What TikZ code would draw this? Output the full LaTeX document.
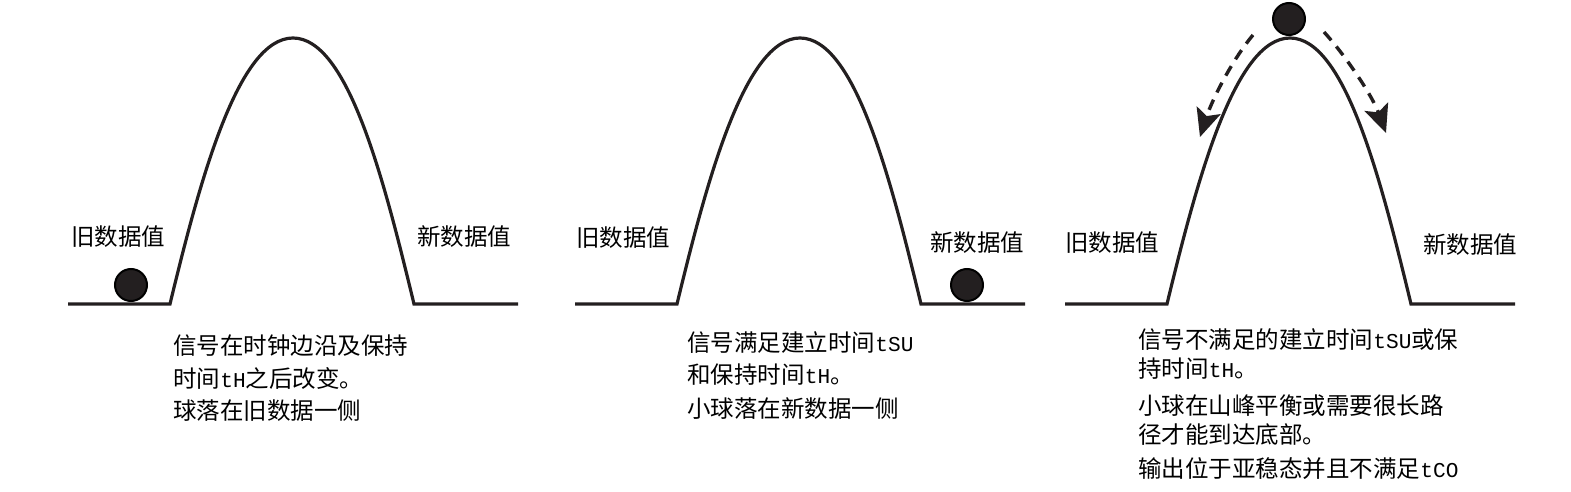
\documentclass[tikz,border=0pt]{standalone}
\usepackage{fontspec}
\setmainfont{Noto Sans CJK SC}
\newfontfamily\lat[Scale=0.9]{Liberation Mono}
\usetikzlibrary{arrows.meta}
\definecolor{ink}{HTML}{231F20}
\begin{document}
\begin{tikzpicture}[x=0.5pt,y=-0.5pt,
  hill/.style={draw=ink,line width=1.6pt},
  ball/.style={circle,draw=black,fill=ink,line width=1pt,minimum size=16pt,inner sep=0pt},
  lbl/.style={anchor=base west,inner sep=0pt,font=\fontsize{11.75pt}{14pt}\selectfont},
  fall/.style={draw=ink,line width=1.7pt,dash pattern=on 5.5pt off 4pt,-{Stealth[length=14pt,width=12.5pt,inset=3pt]}}]
\useasboundingbox (0,0) rectangle (1571,492);
% hills
\foreach \x in {68,575,1065}{
  \begin{scope}[shift={(\x,0)}]
    \draw[hill] (0,304) -- (102,304) .. controls (132,180) and (170,38) .. (225,38)
      .. controls (280,38) and (316,180) .. (346,304) -- (450,304);
  \end{scope}
}
% balls
\node[ball] (b1) at (131,285) {};
\node[ball] (b2) at (967,285) {};
\node[ball] (b3) at (1289,19) {};
% fall arrows
\coordinate (la) at (1253,35);
\coordinate (lb) at (1200,137);
\coordinate (ra) at (1324,32);
\coordinate (rb) at (1386,133);
\draw[fall] (la) .. controls (1232,60) and (1212,100) .. (lb);
\draw[fall] (ra) .. controls (1345,55) and (1372,95) .. (rb);
% labels
\node[lbl] (o1) at (71,246) {旧数据值};
\node[lbl] (n1) at (417,246) {新数据值};
\node[lbl] (o2) at (576,247) {旧数据值};
\node[lbl] (n2) at (930,252) {新数据值};
\node[lbl] (o3) at (1065,251) {旧数据值};
\node[lbl] (n3) at (1423,254) {新数据值};
% captions
\node[lbl] (c1a) at (173,354) {信号在时钟边沿及保持};
\node[lbl] (c1b) at (173,387) {时间{\lat tH}之后改变。};
\node[lbl] (c1c) at (173,419) {球落在旧数据一侧};
\node[lbl] (c2a) at (687,351) {信号满足建立时间{\lat tSU}};
\node[lbl] (c2b) at (687,383) {和保持时间{\lat tH}。};
\node[lbl] (c2c) at (687,417) {小球落在新数据一侧};
\node[lbl] (c3a) at (1138,349) {信号不满足的建立时间{\lat tSU}或保};
\node[lbl] (c3b) at (1138,378) {持时间{\lat tH}。};
\node[lbl] (c3c) at (1138,414) {小球在山峰平衡或需要很长路};
\node[lbl] (c3d) at (1138,443) {径才能到达底部。};
\node[lbl] (c3e) at (1138,477) {输出位于亚稳态并且不满足{\lat tCO}};
\end{tikzpicture}
\end{document}
